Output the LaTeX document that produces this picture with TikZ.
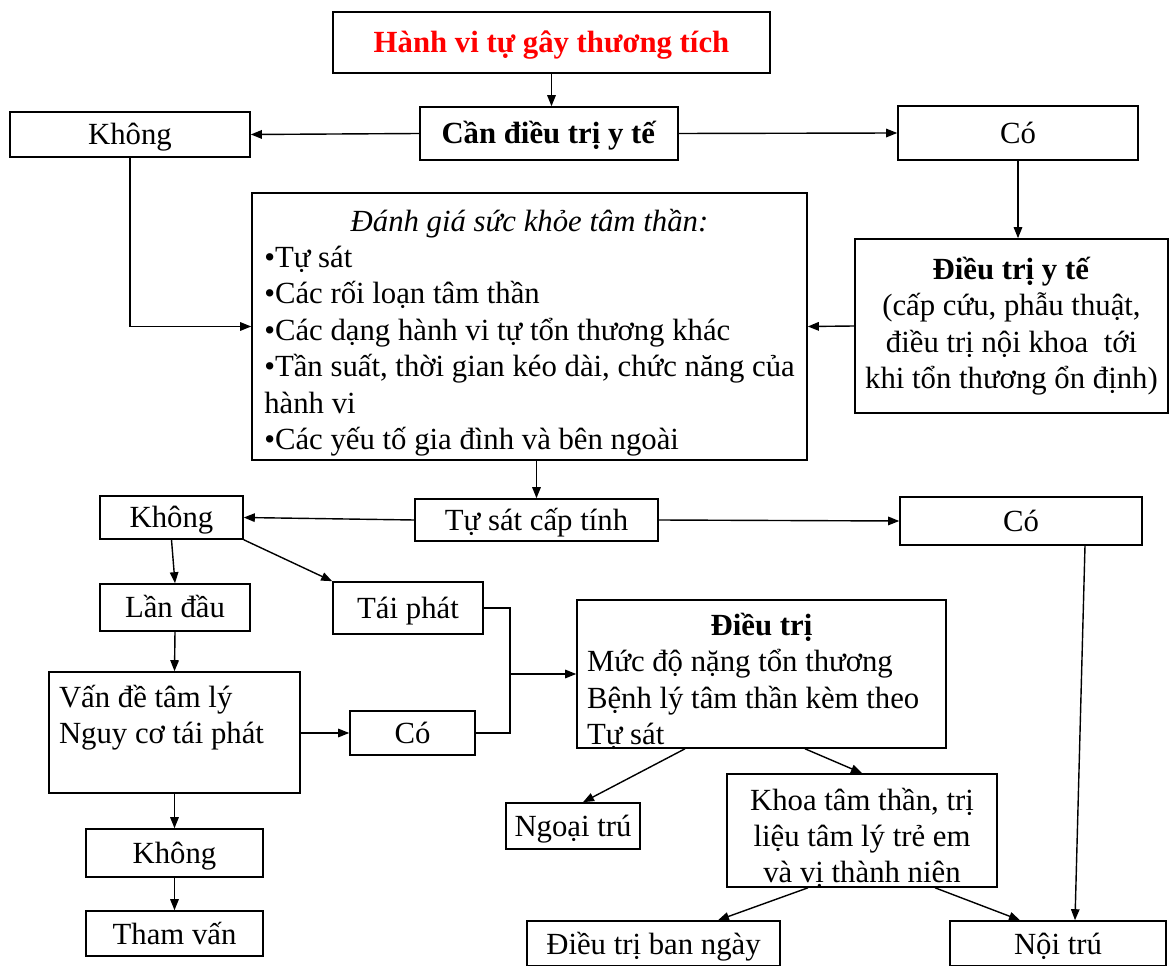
\documentclass[tikz,border=0pt]{standalone}
\usepackage{fontspec}
\setmainfont{Liberation Serif}
\usetikzlibrary{arrows.meta}

\begin{document}
\begin{tikzpicture}[
    font=\fontsize{17.5}{20.7}\selectfont,
    hop/.style={draw, line width=0.9pt, inner sep=2pt, align=center},
    mot/.style={hop, text height=0.56cm, text depth=0.14cm},
    duong/.style={line width=0.8pt},
    mui/.style={duong, -{Triangle[length=0.22cm,width=0.17cm]}}
  ]
  \useasboundingbox (0,0) rectangle (23.4,-19.32);

  % Phan tren
  \node[mot, minimum width=8.74cm, minimum height=1.22cm, text=red] (tieude) at (11.03,-0.85) {\textbf{Hành vi tự gây thương tích}};
  \node[mot, minimum width=5.16cm, minimum height=1.06cm] (candieutri) at (10.98,-2.67) {\textbf{Cần điều trị y tế}};
  \node[mot, minimum width=4.8cm, minimum height=0.9cm] (khong1) at (2.6,-2.69) {Không};
  \node[mot, minimum width=4.8cm, minimum height=1.08cm] (co1) at (20.36,-2.66) {Có};

  \node[hop, minimum width=11.1cm, minimum height=5.34cm] (danhgia) at (10.59,-6.53) {};
  \node (danhgiachu) at ([yshift=-0.13cm]danhgia.center)
    {\begin{tabular}{@{}l@{}}
     \multicolumn{1}{@{}c@{}}{\textit{Đánh giá sức khỏe tâm thần:}}\\
     •Tự sát\\
     •Các rối loạn tâm thần\\
     •Các dạng hành vi tự tổn thương khác\\
     •Tần suất, thời gian kéo dài, chức năng của\\
     hành vi\\
     •Các yếu tố gia đình và bên ngoài
     \end{tabular}};
  \node[hop, minimum width=6.26cm, minimum height=3.48cm] (dieutriyte) at (20.23,-6.52)
    {\textbf{Điều trị y tế}\\(cấp cứu, phẫu thuật,\\điều trị nội khoa\ \ tới\\khi tổn thương ổn định)};

  % Phan giua
  \node[mot, minimum width=4.86cm, minimum height=0.84cm] (tusat) at (10.73,-10.4) {Tự sát cấp tính};
  \node[mot, minimum width=2.86cm, minimum height=0.86cm] (khong2) at (3.43,-10.35) {Không};
  \node[mot, minimum width=4.84cm, minimum height=0.96cm] (co2) at (20.42,-10.42) {Có};
  \node[mot, minimum width=3.0cm, minimum height=0.94cm] (landau) at (3.5,-12.15) {Lần đầu};
  \node[mot, minimum width=3.0cm, minimum height=1.04cm] (taiphat) at (8.16,-12.16) {Tái phát};
  \node[hop, minimum width=5.02cm, minimum height=2.42cm, text width=4.62cm, inner xsep=0.2cm, align=flush left] (vande) at (3.49,-14.65)
    {Vấn đề tâm lý\\Nguy cơ tái phát\\\mbox{}};
  \node[mot, minimum width=2.5cm, minimum height=0.88cm] (co3) at (8.25,-14.66) {Có};
  \node[hop, minimum width=7.38cm, minimum height=2.96cm] (dieutri) at (15.23,-13.48) {};
  \node[text width=6.98cm, align=flush left] (dieutrichu) at ([yshift=-0.15cm]dieutri.center)
    {\makebox[\linewidth]{\textbf{Điều trị}}\\
     Mức độ nặng tổn thương\\
     Bệnh lý tâm thần kèm theo\\
     Tự sát};

  % Phan duoi
  \node[mot, minimum width=2.68cm, minimum height=0.92cm] (ngoaitru) at (11.46,-16.52) {Ngoại trú};
  \node[hop, minimum width=5.4cm, minimum height=2.26cm] (khoa) at (17.24,-16.61) {};
  \node[align=center] (khoachu) at ([yshift=-0.15cm]khoa.center)
    {Khoa tâm thần, trị\\liệu tâm lý trẻ em\\và vị thành niên};
  \node[mot, minimum width=3.54cm, minimum height=0.96cm] (khong3) at (3.49,-17.06) {Không};
  \node[mot, minimum width=3.54cm, minimum height=0.9cm] (thamvan) at (3.49,-18.67) {Tham vấn};
  \node[mot, minimum width=5.06cm, minimum height=0.9cm] (banngay) at (13.07,-18.87) {Điều trị ban ngày};
  \node[mot, minimum width=4.32cm, minimum height=0.9cm] (noitru) at (21.16,-18.87) {Nội trú};

  % Mui ten
  \draw[mui] (tieude.south) -- (tieude.south |- candieutri.north);
  \draw[mui] (candieutri.west) -- (khong1.east);
  \draw[mui] (candieutri.east) -- (co1.west);
  \draw[mui] (khong1.south) |- (danhgia.west);
  \draw[mui] (co1.south) -- (co1.south |- dieutriyte.north);
  \draw[mui] (dieutriyte.west) -- (danhgia.east);
  \draw[mui] (tusat.north |- danhgia.south) -- (tusat.north);
  \draw[mui] (tusat.west) -- (khong2.east);
  \draw[mui] (tusat.east) -- (co2.west);
  \draw[mui] (khong2.south) -- (landau.north);
  \draw[mui] (khong2.south east) -- (taiphat.north west);
  \draw[mui] (landau.south) -- (vande.north);
  \draw[mui] (vande.east |- co3.west) -- (co3.west);

  \coordinate (ghep) at (10.2,-13.48);
  \draw[duong] (taiphat.east) -| (ghep) |- (co3.east);
  \draw[mui] (ghep) -- (dieutri.west);

  \draw[mui] ([xshift=1.28cm]co2.south) -- ([xshift=0.34cm]noitru.north);
  \draw[mui] ([xshift=-1.53cm]dieutri.south) -- ([xshift=0.2cm]ngoaitru.north);
  \draw[mui] ([xshift=0.87cm]dieutri.south) -- (khoa.north);
  \draw[mui] (vande.south) -- (khong3.north);
  \draw[mui] (khong3.south) -- (thamvan.north);
  \draw[mui] ([xshift=-1.08cm]khoa.south) -- ([xshift=1.29cm]banngay.north);
  \draw[mui] ([xshift=1.46cm]khoa.south) -- ([xshift=-0.76cm]noitru.north);
\end{tikzpicture}
\end{document}
